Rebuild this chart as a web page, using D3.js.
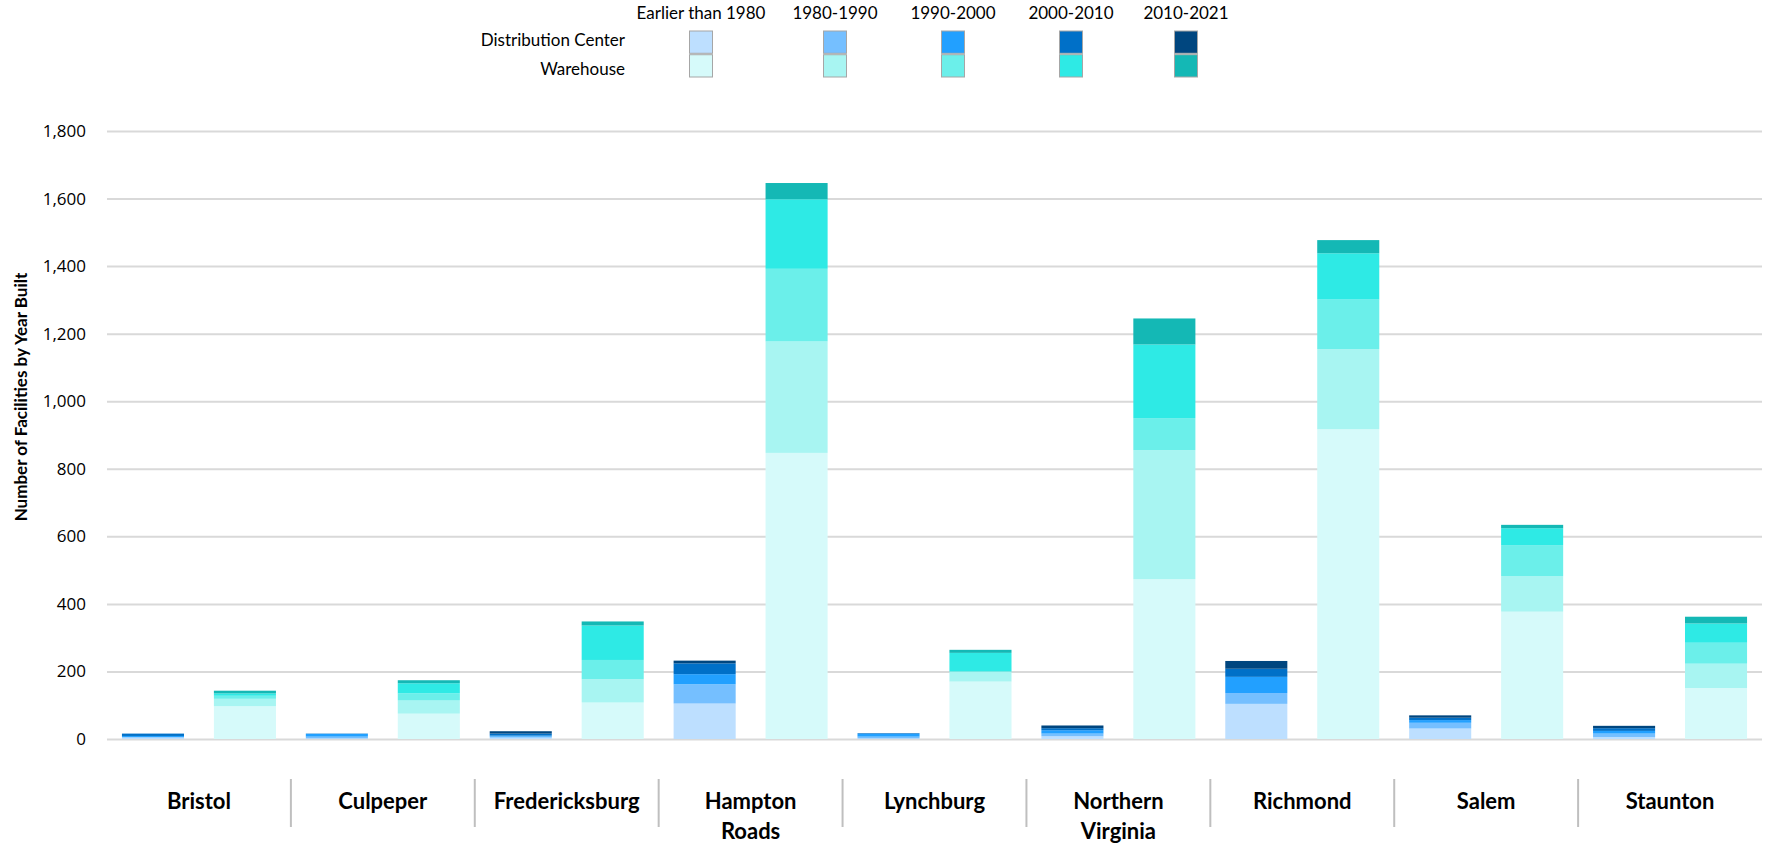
<!DOCTYPE html>
<html>
<head>
<meta charset="utf-8">
<script src="https://cdn.jsdelivr.net/npm/d3@7/dist/d3.min.js"></script>
<style>
  html, body { margin: 0; padding: 0; background: #fff; }
  svg { display: block; }
</style>
</head>
<body>
<svg id="chart" width="1772" height="844"></svg>
<script>
// ---------------- DATA ----------------
const categories = ["Bristol", "Culpeper", "Fredericksburg", "Hampton Roads", "Lynchburg",
                    "Northern Virginia", "Richmond", "Salem", "Staunton"];
const periods = ["Earlier than 1980", "1980-1990", "1990-2000", "2000-2010", "2010-2021"];
const types = ["Distribution Center", "Warehouse"];

// Distribution Center counts by period (per category)
const dcPre1980 = [4, 2, 4, 105, 2, 8, 104, 31, 6];
const dc1980s   = [2, 5, 3, 57, 5, 8, 32, 17, 10];
const dc1990s   = [3, 8, 3, 30, 8, 10, 48, 8, 8];
const dc2000s   = [7, 1, 6, 32, 2, 6, 24, 7, 8];
const dc2010s   = [0, 0, 7, 8, 0, 8, 23, 7, 7];

// Warehouse counts by period (per category)
const whPre1980 = [97, 75, 108, 847, 170, 473, 917, 377, 151];
const wh1980s   = [22, 39, 69, 330, 29, 382, 237, 105, 72];
const wh1990s   = [9, 21, 57, 215, 1, 95, 147, 92, 62];
const wh2000s   = [7, 30, 102, 206, 55, 218, 137, 50, 57];
const wh2010s   = [8, 9, 12, 48, 9, 77, 39, 10, 20];

const yTicks = [0, 200, 400, 600, 800, 1000, 1200, 1400, 1600, 1800];
const yTitle = "Number of Facilities by Year Built";

const dcColors = ["#BDDFFF", "#75BFFF", "#22A0FF", "#0070C8", "#00467F"];
const whColors = ["#D6FAFA", "#A8F5F2", "#6BEFEA", "#2EEAE5", "#14B8B5"];

// ---------------- LAYOUT ----------------
const plot = { left: 107, right: 1762, top: 131, bottom: 739 };
const legendCenters = [701, 835, 953, 1071, 1186];

// ---------------- BUILD ----------------
const seriesByType = {
  "Distribution Center": [dcPre1980, dc1980s, dc1990s, dc2000s, dc2010s],
  "Warehouse": [whPre1980, wh1980s, wh1990s, wh2000s, wh2010s]
};
const colorByType = { "Distribution Center": dcColors, "Warehouse": whColors };

const svg = d3.select("#chart");

const x0 = d3.scaleBand().domain(categories).range([plot.left, plot.right]).padding(0);
const x1 = d3.scaleBand().domain(types).range([0, x0.bandwidth()])
  .paddingInner(0.325).paddingOuter(0.1625);
const y = d3.scaleLinear().domain([0, 1800]).range([plot.bottom, plot.top]);

// gridlines + tick labels
const yAxis = d3.axisLeft(y).tickValues(yTicks).tickFormat(d3.format(",")).tickSize(0).tickPadding(0);
const gAxis = svg.append("g").attr("transform", `translate(${plot.left},0)`).call(yAxis);
gAxis.select(".domain").remove();
gAxis.selectAll(".tick text")
  .attr("x", -21)
  .attr("font-family", "'Open Sans', sans-serif")
  .attr("font-size", 17)
  .attr("fill", "#000");
gAxis.selectAll(".tick").append("line")
  .attr("x1", 0).attr("x2", plot.right - plot.left)
  .attr("stroke", "#D9D9D9").attr("stroke-width", 2);

// stacked bars
types.forEach(t => {
  const rows = categories.map((c, i) => {
    const o = { category: c };
    periods.forEach((p, k) => { o[p] = seriesByType[t][k][i]; });
    return o;
  });
  const stacked = d3.stack().keys(periods)(rows);
  const g = svg.append("g");
  stacked.forEach((layer, k) => {
    g.selectAll(null).data(layer).enter().append("rect")
      .attr("x", d => x0(d.data.category) + x1(t))
      .attr("width", x1.bandwidth())
      .attr("y", d => y(d[1]))
      .attr("height", d => Math.max(0, y(d[0]) - y(d[1])))
      .attr("fill", colorByType[t][k]);
  });
});

// category separators
const sepG = svg.append("g");
categories.slice(1).forEach(c => {
  sepG.append("line")
    .attr("x1", x0(c)).attr("x2", x0(c))
    .attr("y1", plot.bottom + 40).attr("y2", plot.bottom + 88)
    .attr("stroke", "#BFBFBF").attr("stroke-width", 2);
});

// category labels
const labG = svg.append("g")
  .attr("font-family", "Lato, sans-serif")
  .attr("font-weight", "bold")
  .attr("font-size", 22)
  .attr("fill", "#000")
  .attr("text-anchor", "middle");
categories.forEach(c => {
  const cx = x0(c) + x0.bandwidth() / 2;
  const t = labG.append("text").attr("x", cx).attr("y", plot.bottom + 70);
  t.text(c);
  const words = c.split(" ");
  if (words.length > 1 && t.node().getComputedTextLength() > 130) {
    t.text(null);
    words.forEach((w, i) => {
      t.append("tspan").attr("x", cx).attr("dy", i === 0 ? 0 : 30).text(w);
    });
  }
});

// y title
svg.append("text")
  .attr("transform", `translate(23,397) rotate(-90)`)
  .attr("text-anchor", "middle")
  .attr("dominant-baseline", "middle")
  .attr("font-family", "Lato, sans-serif")
  .attr("font-weight", "bold")
  .attr("font-size", 17)
  .attr("fill", "#000")
  .text(yTitle);

// legend
const legX = d3.scaleOrdinal().domain(periods).range(legendCenters);
const legRowY = d3.scaleBand().domain(types).range([31, 77]).paddingInner(0.06);
const leg = svg.append("g").attr("font-family", "Lato, sans-serif").attr("font-size", 17).attr("fill", "#000");
periods.forEach(p => {
  leg.append("text").attr("x", legX(p)).attr("y", 15)
    .attr("text-anchor", "middle").attr("dominant-baseline", "middle").text(p);
});
const rowLabelY = { "Distribution Center": 42, "Warehouse": 71 };
types.forEach(t => {
  leg.append("text").attr("x", 625).attr("y", rowLabelY[t])
    .attr("text-anchor", "end").attr("dominant-baseline", "middle").text(t);
  periods.forEach((p, k) => {
    leg.append("rect")
      .attr("x", legX(p) - 11.5).attr("y", legRowY(t))
      .attr("width", 23).attr("height", legRowY.bandwidth())
      .attr("fill", colorByType[t][k])
      .attr("stroke", "#A6A6A6").attr("stroke-width", 1);
  });
});
</script>
</body>
</html>
